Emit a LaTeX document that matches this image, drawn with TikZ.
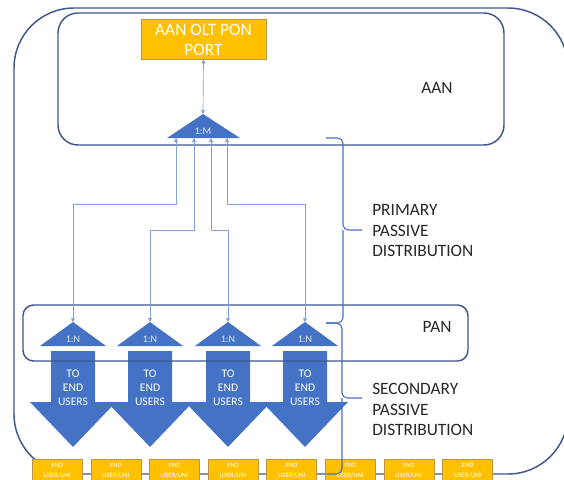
\documentclass[tikz,border=0pt]{standalone}
\usepackage{fontspec}
\setmainfont{Carlito}
\usepackage{tikz}
\usetikzlibrary{calc,arrows.meta}

\definecolor{frameblue}{RGB}{62,86,140}
\definecolor{shapeblue}{RGB}{68,114,196}
\definecolor{linkblue}{RGB}{132,160,214}
\definecolor{portorange}{RGB}{255,192,0}
\definecolor{portedge}{RGB}{186,150,70}
\definecolor{labelgrey}{RGB}{38,38,38}

\tikzset{
  frame/.style={draw=frameblue,line width=1.1pt},
  link/.style={draw=linkblue,line width=0.5pt,{Triangle[width=3pt,length=3pt]}-{Triangle[width=3pt,length=3pt]}},
  split/.style={fill=shapeblue,draw=none},
  brace/.style={draw=shapeblue,line width=0.8pt,rounded corners=4pt},
  bigtext/.style={inner sep=0pt,text=labelgrey,align=left,font=\fontsize{13}{15.5}\selectfont},
  porttext/.style={inner sep=0pt,text=white,align=center,font=\fontsize{13}{15}\selectfont},
  ratio/.style={inner sep=0pt,text=white!85!shapeblue,font=\fontsize{7.5}{8}\selectfont},
  usertext/.style={inner sep=0pt,text=white,align=center,font=\fontsize{8.7}{10.5}\selectfont},
  unibox/.style={fill=portorange,draw=portedge,line width=0.5pt,minimum width=37.5pt,minimum height=24pt,anchor=north west,inner sep=0pt},
  unitext/.style={inner sep=0pt,text=white,align=center,font=\fontsize{5}{7.5}\selectfont}
}

\begin{document}
\begin{tikzpicture}[x=0.75pt,y=0.75pt,yscale=-1,xscale=1]
\useasboundingbox (0,0) rectangle (564,479);
\clip (0,0) rectangle (564,479);

%Rounded Rect: whole network
\draw [frame,rounded corners=45pt] (14,8) rectangle (568,474) ;

%Rounded Rect: AAN
\draw [frame,rounded corners=15pt] (58,13) rectangle (504,145) ;
% Text Node
\node [bigtext] (aan) at (437,88) {AAN};

%Shape: Rectangle (OLT port)
\node [fill=portorange,draw=portedge,line width=0.5pt,minimum width=93.75pt,minimum height=30pt,inner sep=0pt] (port) at (203.5,39) {};
\node [porttext] (porttxt) at (203.5,40) {AAN OLT PON\\PORT};

%Shape: Triangle 1:M
\coordinate (mtop) at (203,114) ;
\fill [split] (mtop) -- (240,138) -- (167,138) -- cycle ;
\node [ratio] (mlbl) at (203,131) {1:M};
\draw [link] (port.south) -- (mtop) ;

%Splitter ports on the 1:M base
\coordinate (m1) at (176,138) ;
\coordinate (m2) at (194,138) ;
\coordinate (m3) at (211,138) ;
\coordinate (m4) at (227,138) ;
\coordinate (yhi) at (0,204) ;
\coordinate (ylo) at (0,230) ;

%Shapes: 1:N splitters and arrows to end users
\foreach \i/\x in {1/73,2/150,3/228,4/305}{
  \fill [split] (\x-22,351) -- (\x+22,351) -- (\x+22,402) -- (\x+43,402) -- (\x,447) -- (\x-43,402) -- (\x-22,402) -- cycle ;
  \coordinate (n\i) at (\x,322) ;
  \fill [split] (n\i) -- (\x+33,346) -- (\x-33,346) -- cycle ;
  \node [ratio] (nlbl\i) at (\x,339) {1:N};
  \node [usertext] (users\i) at (\x,388) {TO\\END\\USERS};
}

%Rounded Rect: PAN
\draw [frame,rounded corners=8pt] (23,305) rectangle (468,361) ;
% Text Node
\node [bigtext] (pan) at (437,327) {PAN};

%Straight Lines: primary fibres
\draw [link] (m1) -- (m1 |- yhi) -| (n1) ;
\draw [link] (m2) -- (m2 |- ylo) -| (n2) ;
\draw [link] (m3) -- (m3 |- ylo) -| (n3) ;
\draw [link] (m4) -- (m4 |- yhi) -| (n4) ;

% Text Node
\node [bigtext,anchor=north west] (primary) at (372,204) {PRIMARY\\PASSIVE\\DISTRIBUTION};
% Text Node
\node [bigtext,anchor=north west] (secondary) at (372,383) {SECONDARY\\PASSIVE\\DISTRIBUTION};

%End user boxes
\foreach \i in {0,...,7}{
  \node [unibox] (uni\i) at (32+58.6*\i,459) {};
  \node [unitext,anchor=north] (unitxt\i) at ($(uni\i.north)+(0,4)$) {END\\USER/UNI};
}

%Braces
\coordinate (b0) at (326,138) ;
\coordinate (b1) at (326,323) ;
\coordinate (b2) at (326,474) ;
\draw [brace] (b0) -| (343,230) -- (362,230) ;
\draw [brace] (343,230) |- (b1) ;
\draw [brace] (b1) -| (342,398) -- (362,398) ;
\draw [brace] (342,398) |- (b2) ;

\end{tikzpicture}
\end{document}
